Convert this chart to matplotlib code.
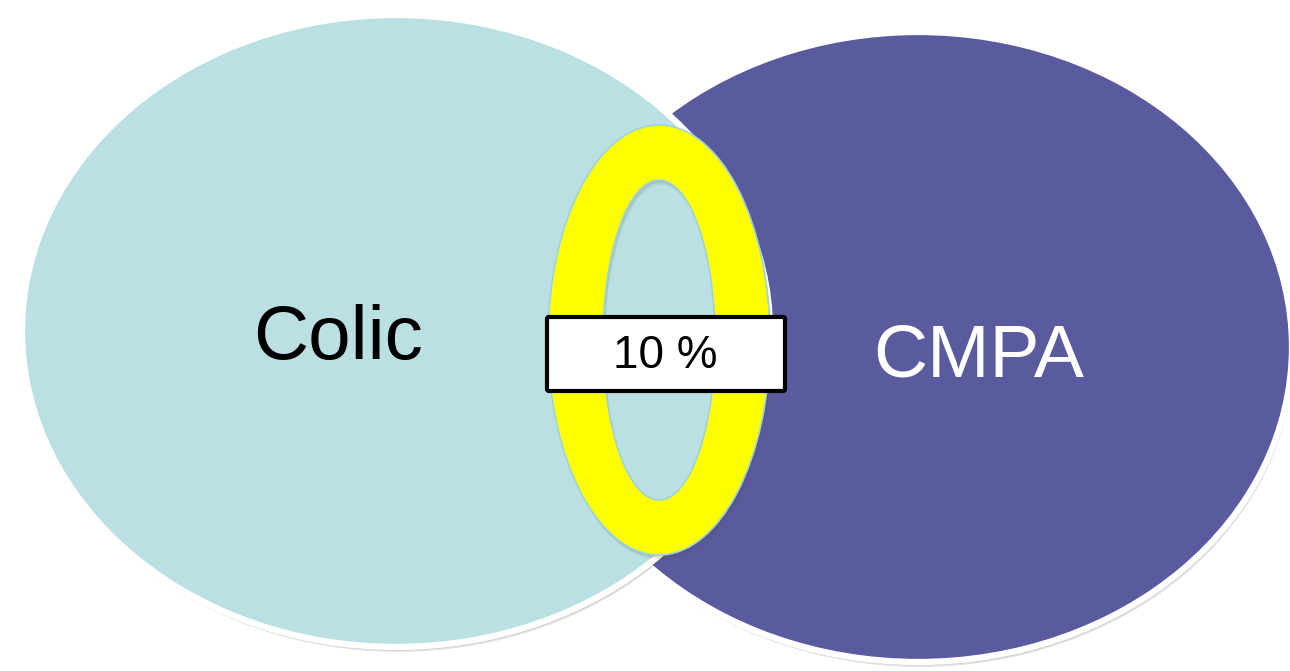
import matplotlib
matplotlib.use("Agg")
import matplotlib.pyplot as plt
import matplotlib.patches as mpatches
import matplotlib.patheffects as pe

# two sets and the share of cases that belong to both
set_labels = ["Colic", "CMPA"]
set_colors = ["#bae0e3", "#5a5a9f"]
label_colors = ["black", "white"]
overlap_pct = 10

plt.rcParams["font.family"] = ["Liberation Sans", "DejaVu Sans"]

W, H = 1290, 671
fig = plt.figure(figsize=(W / 100, H / 100), dpi=100)
ax = fig.add_axes([0, 0, 1, 1])
ax.set_xlim(0, W)
ax.set_ylim(H, 0)
ax.axis("off")


def soft_shadow(strength=0.12):
    # a few stacked offsets give a slightly blurred drop shadow
    layers = []
    for dx, dy in [(0, -0.5), (0.5, -1.5), (1.0, -2.5), (1.5, -3.5)]:
        layers.append(pe.SimplePatchShadow(offset=(dx, dy), shadow_rgbFace="0.3",
                                           alpha=strength))
    return layers + [pe.Normal()]


# circle geometry (pixel space)
centers = [(396, 331), (918, 347)]
radii = [(374, 316), (374, 315)]

# right set first, the left one sits on top of it
for i in [1, 0]:
    cx, cy = centers[i]
    a, b = radii[i]
    ell = mpatches.Ellipse((cx, cy), 2 * a, 2 * b, facecolor=set_colors[i],
                           edgecolor="white", linewidth=4.5, zorder=2 + (1 - i))
    ell.set_path_effects(soft_shadow(0.17))
    ax.add_patch(ell)

# yellow ring around the overlap
ring = mpatches.Annulus((659, 340), (111, 215), 55, facecolor="#ffff00",
                        edgecolor="#9fd3dc", linewidth=1.2, zorder=5)
ring.set_path_effects(soft_shadow(0.08))
ax.add_patch(ring)

# percentage box
box = mpatches.FancyBboxPatch((547, 317), 238, 74, boxstyle="round,pad=0,rounding_size=2",
                              facecolor="white", edgecolor="black", linewidth=3, zorder=6)
ax.add_patch(box)
ax.text(665, 356, f"{overlap_pct} %", fontsize=33, ha="center", va="center",
        color="black", zorder=7)

# set names
label_pos = [(338, 339), (979, 357)]
label_sizes = [55, 54]
for i, name in enumerate(set_labels):
    ax.text(label_pos[i][0], label_pos[i][1], name, fontsize=label_sizes[i], ha="center",
            va="center", color=label_colors[i], zorder=7)

plt.savefig("out.png", dpi=100)
plt.close()
